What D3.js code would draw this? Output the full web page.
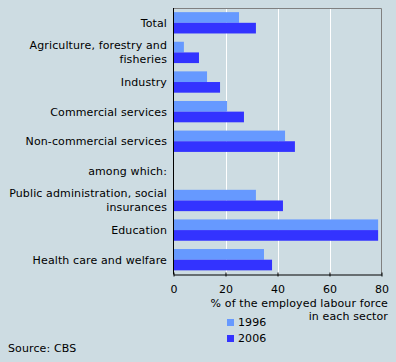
<!DOCTYPE html>
<html lang="en">
<head>
  <meta charset="UTF-8">
  <title>Employed labour force by sector</title>
  <script src="https://d3js.org/d3.v7.min.js"></script>
  <style>
    body { margin: 0; background: #cddce2; }
    svg { display: block; }
    text { font-family: Verdana, "DejaVu Sans", sans-serif; font-size: 11px; fill: #000; letter-spacing: 0.12px; }
    .grid line { stroke: #fff; stroke-width: 1px; }
  </style>
</head>
<body>
  <svg width="396" height="362"></svg>
  <script>
    const categories = [
      ["Total"],
      ["Agriculture, forestry and", "fisheries"],
      ["Industry"],
      ["Commercial services"],
      ["Non-commercial services"],
      ["among which:"],
      ["Public administration, social", "insurances"],
      ["Education"],
      ["Health care and welfare"]
    ];
    const years = ["1996", "2006"];
    const values1996 = [25.2, 4.0, 12.9, 20.6, 42.9, null, 31.7, 78.7, 34.8];
    const values2006 = [31.7, 9.8, 17.9, 27.1, 46.7, null, 42.1, 78.7, 37.9];
    const ticks = [0, 20, 40, 60, 80];
    const colors = ["#6699ff", "#3333ff"];

    const svg = d3.select("svg");
    const plotL = 173.5, plotR = 381.5, plotT = 8, plotB = 274.5;

    const x = d3.scaleLinear().domain([0, 80]).range([plotL, plotR]);
    const y = d3.scaleBand()
      .domain(d3.range(categories.length))
      .range([plotT, plotB])
      .paddingInner(0.28)
      .paddingOuter(0.14);
    const sub = d3.scaleBand().domain([0, 1]).range([0, y.bandwidth()]);

    // gridlines
    svg.append("g").attr("class", "grid")
      .selectAll("line")
      .data(ticks.slice(1, -1))
      .join("line")
      .attr("x1", d => Math.round(x(d)) + 0.5).attr("x2", d => Math.round(x(d)) + 0.5)
      .attr("y1", plotT).attr("y2", plotB);

    // frame top/right
    svg.append("path")
      .attr("d", `M${plotL},${plotT + 0.5}H${plotR}V${plotB}`)
      .attr("fill", "none")
      .attr("stroke", "#808080");

    // bars
    const series = [values1996, values2006];
    series.forEach((vals, s) => {
      svg.append("g")
        .selectAll("rect")
        .data(vals.map((v, i) => ({ v, i })).filter(d => d.v != null))
        .join("rect")
        .attr("x", x(0))
        .attr("y", d => y(d.i) + sub(s))
        .attr("width", d => x(d.v) - x(0))
        .attr("height", sub.bandwidth())
        .attr("fill", colors[s]);
    });

    // left axis line
    svg.append("line")
      .attr("x1", plotL).attr("x2", plotL)
      .attr("y1", plotT).attr("y2", plotB)
      .attr("stroke", "#000");

    // bottom axis
    const xAxis = d3.axisBottom(x).tickValues(ticks).tickSizeInner(3).tickSizeOuter(0).tickPadding(8);
    const gx = svg.append("g").attr("transform", `translate(0,${plotB})`).call(xAxis);
    gx.select(".domain").attr("stroke", "#000");
    gx.selectAll(".tick line").attr("y1", -2).attr("y2", 2).attr("stroke", "#000");
    gx.selectAll(".tick text").attr("font-size", null).attr("font-family", null).attr("fill", "#000");

    // category labels
    const lab = svg.append("g").selectAll("text")
      .data(categories)
      .join("text")
      .attr("text-anchor", "end")
      .attr("x", 167)
      .attr("y", (d, i) => y(i) + y.bandwidth() / 2 + 4 - (d.length - 1) * 7);
    lab.selectAll("tspan")
      .data(d => d)
      .join("tspan")
      .attr("x", 167)
      .attr("dy", (d, i) => i ? 14 : 0)
      .text(d => d);

    // axis title
    svg.append("text").attr("text-anchor", "end").attr("x", 388).attr("y", 306.5)
      .text("% of the employed labour force");
    svg.append("text").attr("text-anchor", "end").attr("x", 388).attr("y", 319.5)
      .text("in each sector");

    // legend
    const lg = svg.append("g").selectAll("g")
      .data(years)
      .join("g")
      .attr("transform", (d, i) => `translate(227,${319 + i * 16})`);
    lg.append("rect").attr("width", 7).attr("height", 7).attr("fill", (d, i) => colors[i]);
    lg.append("text").attr("x", 11).attr("y", 6.5).text(d => d);

    svg.append("text").attr("x", 8).attr("y", 352).text("Source: CBS");
  </script>
</body>
</html>
